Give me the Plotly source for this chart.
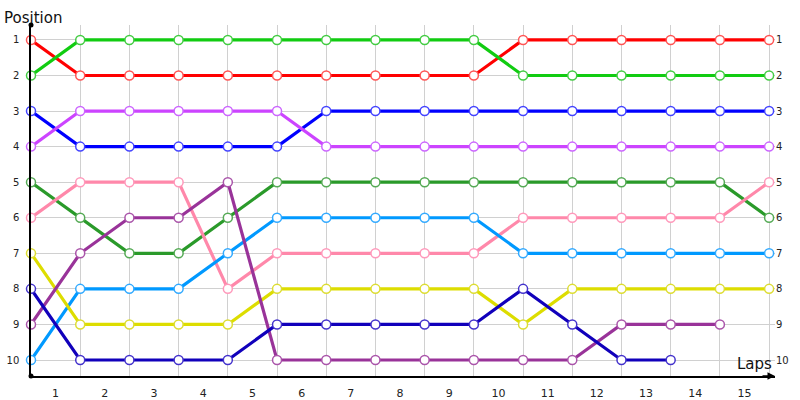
import plotly.graph_objects as go

laps = list(range(0, 16))
lap_labels = [str(i) for i in range(1, 16)]
positions = list(range(1, 11))

red = [1, 2, 2, 2, 2, 2, 2, 2, 2, 2, 1, 1, 1, 1, 1, 1]
green = [2, 1, 1, 1, 1, 1, 1, 1, 1, 1, 2, 2, 2, 2, 2, 2]
blue = [3, 4, 4, 4, 4, 4, 3, 3, 3, 3, 3, 3, 3, 3, 3, 3]
magenta = [4, 3, 3, 3, 3, 3, 4, 4, 4, 4, 4, 4, 4, 4, 4, 4]
darkgreen = [5, 6, 7, 7, 6, 5, 5, 5, 5, 5, 5, 5, 5, 5, 5, 6]
pink = [6, 5, 5, 5, 8, 7, 7, 7, 7, 7, 6, 6, 6, 6, 6, 5]
lightblue = [10, 8, 8, 8, 7, 6, 6, 6, 6, 6, 7, 7, 7, 7, 7, 7]
yellow = [7, 9, 9, 9, 9, 8, 8, 8, 8, 8, 9, 8, 8, 8, 8, 8]
violet = [9, 7, 6, 6, 5, 10, 10, 10, 10, 10, 10, 10, 9, 9, 9]
navy = [8, 10, 10, 10, 10, 9, 9, 9, 9, 9, 8, 9, 10, 10]

series = [red, green, blue, magenta, darkgreen, pink, lightblue, yellow, violet, navy]
line_colors = ["#FF0000", "#11CC11", "#0000FF", "#CC44FF", "#2A9A2A",
               "#FF88AA", "#0099FF", "#DDDD00", "#993399", "#1100BB"]
marker_colors = ["#FF5555", "#44CC44", "#4444FF", "#CC66FF", "#55AA55",
                 "#FF99BB", "#33AAFF", "#DDDD33", "#AA55AA", "#4433CC"]

fig = go.Figure()
for vals, lc, mc in zip(series, line_colors, marker_colors):
    fig.add_trace(go.Scatter(
        x=laps[:len(vals)], y=vals, mode="lines+markers",
        line=dict(color=lc, width=3.2),
        marker=dict(symbol="circle", size=9, color="white",
                    line=dict(color=mc, width=1.5)),
        showlegend=False, cliponaxis=False, hoverinfo="skip"))

# right-side axis carrier
fig.add_trace(go.Scatter(x=[laps[0]], y=[positions[0]], yaxis="y2",
                         mode="markers", marker=dict(opacity=0),
                         showlegend=False, hoverinfo="skip"))

# axis end dots
fig.add_trace(go.Scatter(x=[0, 0], y=[10.45, 0.58], mode="markers",
                         marker=dict(color="black", size=5),
                         showlegend=False, cliponaxis=False, hoverinfo="skip"))

tickfont = dict(family="DejaVu Sans", size=10, color="#222222")
yrange = [10.45, 0.58]

fig.update_layout(
    width=800, height=400,
    margin=dict(l=31, r=25, t=25, b=24, autoexpand=False),
    paper_bgcolor="white", plot_bgcolor="white",
    xaxis=dict(
        range=[0, 15.12], tickvals=[i + 0.5 for i in range(15)], ticktext=lap_labels,
        showgrid=False, zeroline=False, showline=True, linecolor="black", linewidth=1.5,
        ticks="", tickfont=dict(family="DejaVu Sans", size=11, color="#222222"),
        ticklabelstandoff=6, automargin=False,
        minor=dict(tickvals=laps, showgrid=True, gridcolor="#D0D0D0", gridwidth=1, ticks=""),
    ),
    yaxis=dict(
        range=yrange, tickvals=positions, ticktext=[str(p) for p in positions],
        showgrid=True, gridcolor="#D0D0D0", gridwidth=1, zeroline=False,
        showline=True, linecolor="black", linewidth=1.5, ticks="",
        tickfont=tickfont, ticklabelstandoff=8, automargin=False,
    ),
    yaxis2=dict(
        range=yrange, overlaying="y", side="right", anchor="x",
        tickvals=positions, ticktext=[str(p) for p in positions],
        showgrid=False, zeroline=False, showline=False, ticks="",
        tickfont=tickfont, ticklabelstandoff=0, automargin=False,
    ),
    annotations=[
        dict(text="Position", xref="paper", yref="paper", x=-29/744, y=1.0,
             xanchor="left", yanchor="bottom", yshift=-4, showarrow=False,
             font=dict(family="DejaVu Sans", size=15, color="#111111")),
        dict(text="Laps", xref="x", yref="y", x=15.1, y=10.45,
             xanchor="right", yanchor="bottom", yshift=1, showarrow=False,
             font=dict(family="DejaVu Sans", size=15, color="#111111")),
        dict(x=15.12, y=10.45, xref="x", yref="y", ax=-14, ay=0,
             showarrow=True, arrowhead=2, arrowsize=1, arrowwidth=1.5,
             arrowcolor="black", text=""),
    ],
)

fig.write_html("out.html", config={"displayModeBar": False},
               post_script="document.body.style.margin='0';document.body.style.overflow='hidden';")
